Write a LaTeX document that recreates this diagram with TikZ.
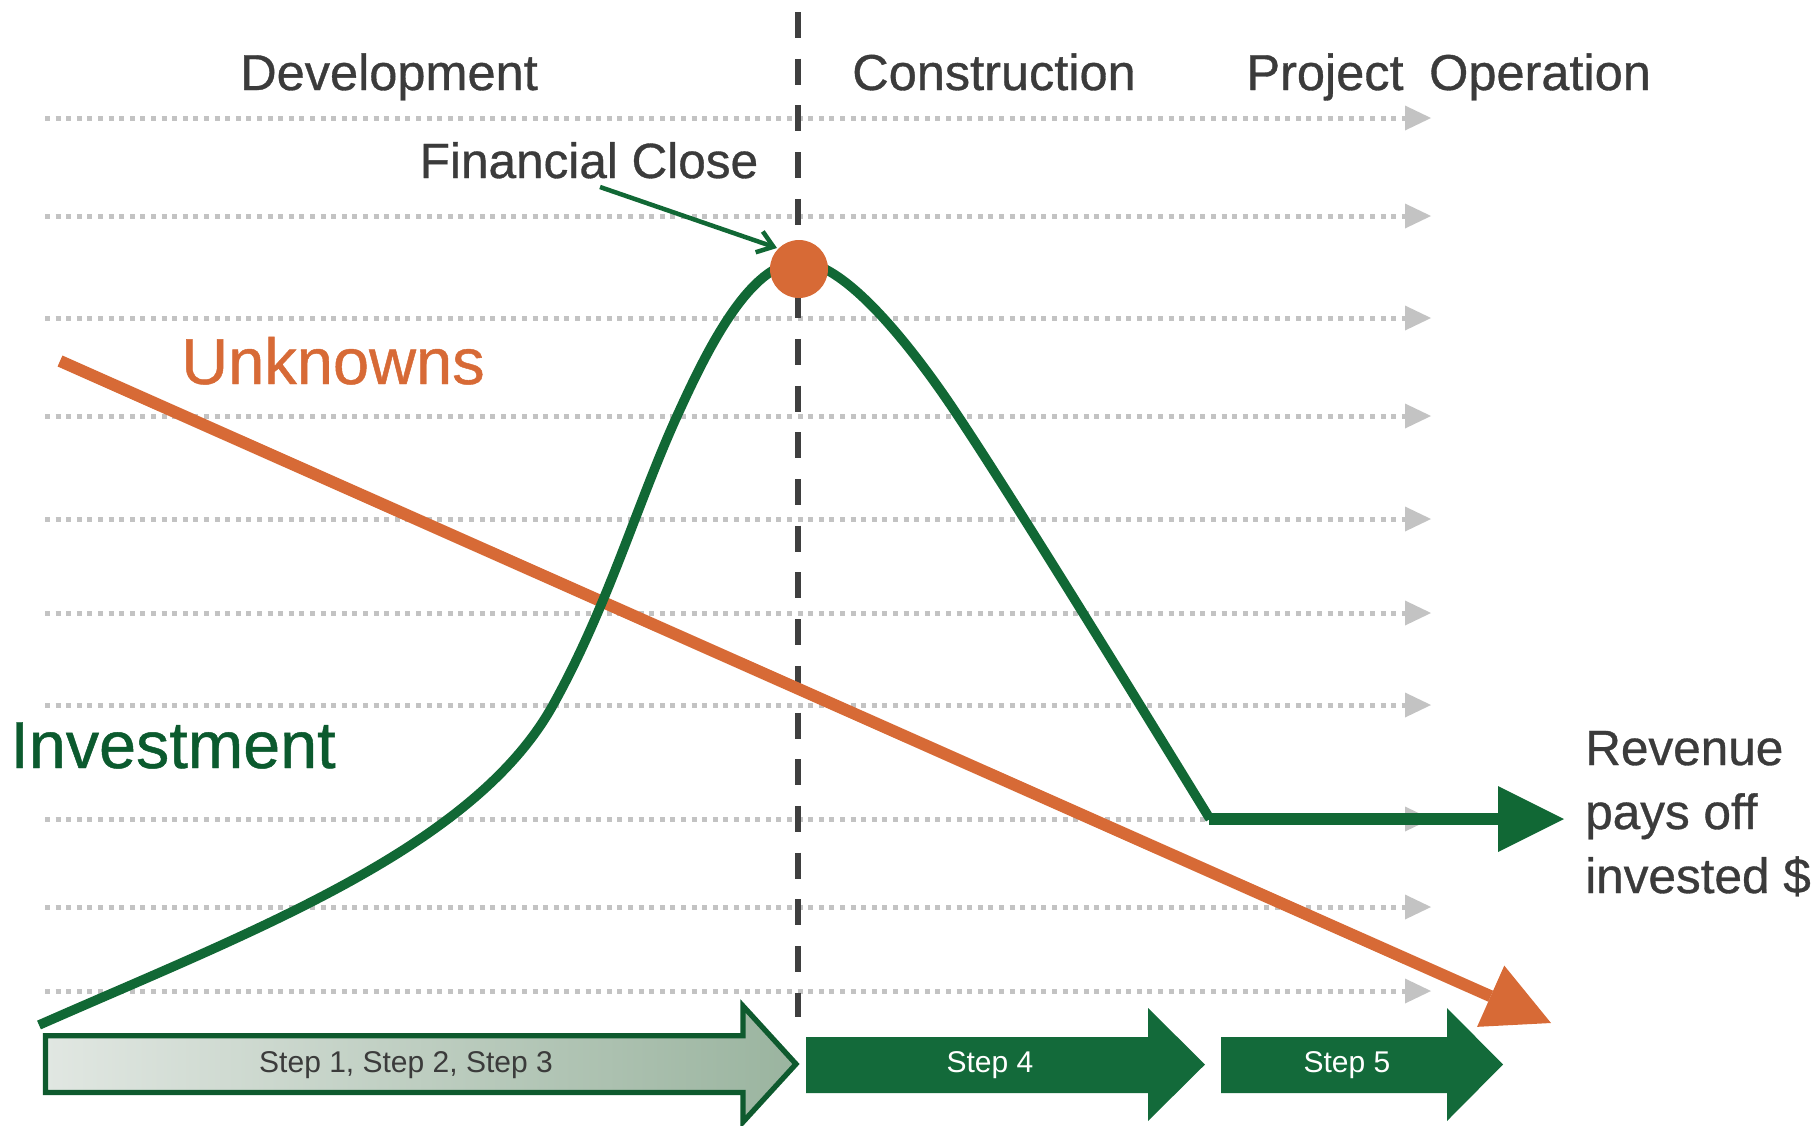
\documentclass[tikz,border=0pt]{standalone}
\usepackage{fontspec}
\setmainfont{Liberation Sans}
\newfontfamily\heavysans[FakeBold=0.7]{Liberation Sans}
\usetikzlibrary{arrows.meta}
\definecolor{txt}{HTML}{3B3B3B}
\definecolor{gridgray}{HTML}{C3C3C3}
\definecolor{vdashcol}{HTML}{3F3F3F}
\definecolor{orng}{HTML}{D76A36}
\definecolor{grn}{HTML}{116835}
\definecolor{invgrn}{HTML}{0B5A2E}
\definecolor{stepgrn}{HTML}{136A3A}
\definecolor{stepborder}{HTML}{0E5A2E}
\definecolor{gradl}{HTML}{E1E7E2}
\definecolor{gradr}{HTML}{9AB49F}
\tikzset{
  gridline/.style={draw=gridgray, line width=5pt, dash pattern=on 5pt off 5.6pt,
    -{Triangle[length=26pt,width=25pt,line width=0pt]}},
  vdashline/.style={draw=vdashcol, line width=6.5pt, dash pattern=on 26pt off 20.7pt},
  lbl/.style={inner sep=0pt, anchor=base},
  hdr/.style={lbl, text=txt, font=\heavysans\fontsize{50.5pt}{60pt}\selectfont},
  steplbl/.style={lbl, font=\fontsize{30pt}{36pt}\selectfont},
}
\begin{document}
\begin{tikzpicture}[x=1pt,y=-1pt]
\useasboundingbox (0,0) rectangle (1818,1125);

% background guide lines
\foreach \yy in {118,216,318,416,519,613,705,819,907,991} {
  \draw[gridline] (45,\yy) -- (1431,\yy);
}

% phase separator
\coordinate (vtop) at (798,12);
\coordinate (vbot) at (798,1017);
\draw[vdashline] (vtop) -- (vbot);

% headers
\node[hdr] (dev) at (389,90) {Development};
\node[hdr] (con) at (994,90) {Construction};
\node[hdr] (proj) at (1325,90) {Project};
\node[hdr] (oper) at (1540,90) {Operation};

% unknowns line
\coordinate (ua) at (60,361);
\coordinate (ub) at (1551,1023);
\draw[draw=orng, line width=12pt, -{Triangle[length=66pt,width=67pt,line width=0pt]}] (ua) -- (ub);
\node[lbl, text=orng, font=\heavysans\fontsize{65pt}{76pt}\selectfont] (unk) at (333,384) {Unknowns};

% investment curve
\coordinate (c0) at (39,1025);
\coordinate (c1) at (553,705);
\coordinate (c2) at (677,416);
\coordinate (cpk) at (800,262);
\coordinate (c3) at (958,416);
\coordinate (ga) at (1210,819);
\draw[draw=grn, line width=9.5pt]
  (c0) .. controls (250,932) and (473,849) .. (c1)
       .. controls (608,606) and (637,504) .. (c2)
       .. controls (707,350) and (750,262) .. (cpk)
       .. controls (850,262) and (925,366) .. (c3)
       .. controls (1018,506) and (1160,737.5) .. (ga);
\coordinate (gb) at (1564,819);
\draw[draw=grn, line width=12.5pt, -{Triangle[length=66pt,width=66pt,line width=0pt]}] ([xshift=-1pt]ga) -- (gb);
\node[lbl, text=invgrn, font=\heavysans\fontsize{66.5pt}{78pt}\selectfont] (inv) at (173,768) {Investment};

% financial close
\node[circle, fill=orng, minimum size=58pt, inner sep=0pt] (fcdot) at (799,269) {};
\node[lbl, text=txt, font=\heavysans\fontsize{49.5pt}{58pt}\selectfont] (fc) at (589,178) {Financial Close};
\coordinate (fcs) at (600,187);
\coordinate (fce) at (777,248);
\draw[draw=grn, line width=4.5pt, -{Straight Barb[length=15pt,width=22pt]}] (fcs) -- (fce);

% revenue label (base anchor = baseline of last line)
\node[inner sep=0pt, anchor=base west, align=left, text=txt,
  font=\heavysans\fontsize{49.5pt}{64pt}\selectfont] (rev) at (1585,893) {Revenue\\pays off\\invested \$};

% step arrows
\path[left color=gradl, right color=gradr, draw=stepborder, line width=5.3pt]
  (45.5,1035.8) -- (743,1035.8) -- (743,1006) -- (796,1064) -- (743,1122)
  -- (743,1092.5) -- (45.5,1092.5) -- cycle;
\node[steplbl, text=txt] (s123) at (406,1072) {Step 1, Step 2, Step 3};

\fill[stepgrn] (806,1037) -- (1148,1037) -- (1148,1008) -- (1205,1064.5)
  -- (1148,1121) -- (1148,1093) -- (806,1093) -- cycle;
\node[steplbl, text=white] (s4) at (990,1072) {Step 4};

\fill[stepgrn] (1221,1037) -- (1447,1037) -- (1447,1008) -- (1503,1064.5)
  -- (1447,1121) -- (1447,1093) -- (1221,1093) -- cycle;
\node[steplbl, text=white] (s5) at (1347,1072) {Step 5};
\end{tikzpicture}
\end{document}
